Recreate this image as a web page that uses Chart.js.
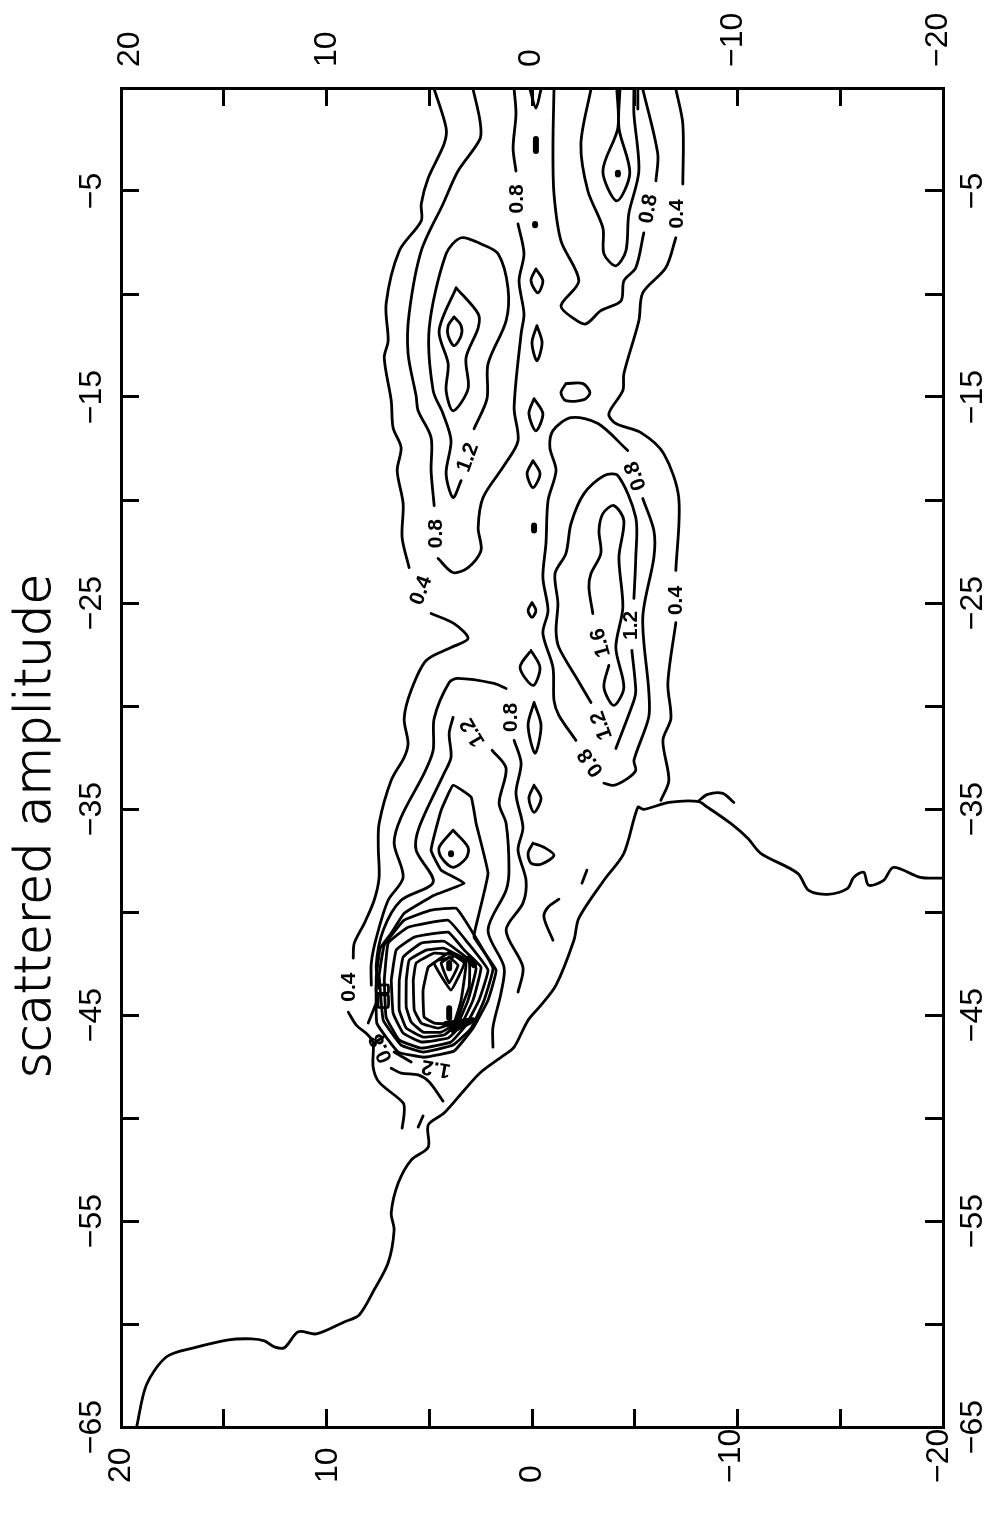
<!DOCTYPE html>
<html>
<head>
<meta charset="utf-8">
<style>
    html, body { margin: 0; background: #fff; }
    #wrap { width: 988px; height: 1516px; }
</style>
<script src="https://cdn.jsdelivr.net/npm/chart.js@4"></script>
</head>
<body>
<div id="wrap"><canvas id="ampChart"></canvas></div>
<script>
// contours as [horizontal axis value, vertical axis value]
const coast = [[19.24,-65],[18.76,-62.95],[17.78,-61.59],[16.42,-61.15],[14.77,-60.77],[13.65,-60.72],[13.02,-60.82],[12.54,-61.11],[12.05,-61.15],[11.37,-60.38],[10.5,-60.48],[9.14,-59.9],[8.41,-59.56],[7.68,-58.34],[7,-57.03],[6.71,-55.44],[6.85,-54.61],[6.51,-53.16],[5.88,-52.04],[5.05,-51.41],[5.05,-50.34],[4.28,-49.76],[3.3,-48.65],[2.48,-47.77],[1.36,-46.95],[0.87,-46.56],[0.19,-45.25],[-0.44,-44.52],[-1.17,-43.55],[-2.04,-41.37],[-2.28,-40.3],[-3.5,-38.46],[-4.47,-37.15],[-5.15,-34.92],[-5.44,-35.02],[-6.66,-34.68],[-8.07,-34.63],[-8.55,-34.92],[-9.67,-35.7],[-10.5,-36.42],[-11.13,-37.15],[-12.93,-38.12],[-13.46,-38.95],[-14.39,-39.14],[-15.36,-38.85],[-15.65,-38.32],[-16.14,-38.07],[-16.38,-38.7],[-17.11,-38.46],[-17.59,-37.83],[-18.9,-38.32],[-19.97,-38.36]];
const coastBranch = [[-8.07,-34.63],[-8.55,-34.29],[-9.28,-34.24],[-9.82,-34.68]];

const north04a = [[4.76,-0.05],[4.18,-1.94],[4.28,-2.72],[5.05,-4.37],[5.39,-5.63],[5.39,-6.45],[6.46,-7.91],[7.1,-10.48],[7,-12.27],[7.19,-13.1],[6.85,-15.18],[6.76,-16.49],[6.37,-17.46],[6.56,-18.58],[6.27,-20.18],[6.32,-21.83],[5.98,-23.28]];
const north04b = [[4.91,-25.51],[3.79,-26],[3.11,-26.72],[3.94,-27.16],[5.15,-27.79],[5.88,-29.24],[6.22,-30.6],[6.03,-31.82],[6.22,-32.49],[6.85,-33.61],[7.44,-35.7],[7.48,-36.86],[7.44,-38.32],[7.68,-39.43],[8.16,-40.55],[8.65,-41.52],[8.7,-42.24]];
const north04c = [[8.94,-44.86],[8.55,-45.49],[7.97,-45.98],[7.73,-46.36],[7.73,-47.53],[7.44,-48.26],[6.27,-49.27],[6.22,-49.76],[6.32,-50.49]];

const north08a = [[2.87,-0.05],[2.53,-1.6],[2.53,-2.47],[3.6,-4.03],[4.33,-5.63],[5.39,-7.91],[5.98,-10.96],[6.03,-12.9],[5.64,-14.94],[5.54,-15.67],[4.91,-16.97],[4.91,-18.58],[4.76,-20.27]];
const north08b = [[4.57,-22.84],[3.84,-23.52],[3.11,-23.28],[2.48,-22.45],[2.62,-21.34],[2.38,-19.88],[1.36,-18.33],[0.68,-17.12],[0.87,-15.52],[0.53,-11.93],[0.39,-10.96],[0.63,-9.36],[0.39,-8.05],[0.68,-6.6]];
const north08c = [[0.78,-4.03],[0.92,-2.91],[0.78,-1.26],[0.87,-0.05]];
const north12 = [[2.82,-16.54],[2.19,-15.08],[2.14,-13.39],[1.26,-11.3],[1.17,-9.7],[1.65,-8.05],[2.48,-7.57],[3.45,-7.27],[4.18,-8.05],[5,-11.64],[4.81,-14.69],[4.33,-15.81],[3.94,-17.12],[4.18,-18.72],[3.84,-19.88],[3.45,-19.06]];
const north16 = [[3.69,-9.7],[4.52,-11.78],[4.08,-13.39],[4.18,-14.69],[3.84,-15.67],[3.11,-14.6],[3.21,-13.09],[2.62,-11.64],[2.62,-10.96],[3.69,-9.7]];
const north20 = [[3.79,-11.11],[3.45,-11.54],[3.45,-12.03],[3.79,-12.51],[4.08,-12.03],[4.08,-11.54],[3.79,-11.11]];

const ridge = [
    [[0.1,-0.05],[-0.19,-0.97],[-0.44,-0.05]],
    [[-0.19,-8.78],[-0.53,-9.36],[-0.29,-9.94],[0.05,-9.36],[-0.19,-8.78]],
    [[-0.24,-11.54],[-0.49,-12.37],[-0.24,-13.24],[0,-12.37],[-0.24,-11.54]],
    [[-1.65,-14.35],[-2.48,-14.35],[-2.82,-14.79],[-2.53,-15.13],[-1.65,-15.18],[-1.41,-14.79],[-1.65,-14.35]],
    [[-0.1,-15.08],[-0.53,-15.81],[-0.19,-16.64],[0.15,-15.81],[-0.1,-15.08]],
    [[-0.05,-18.09],[-0.39,-18.72],[-0.05,-19.4],[0.24,-18.72],[-0.05,-18.09]],
    [[0,-24.98],[-0.19,-25.36],[0,-25.7],[0.19,-25.36],[0,-24.98]],
    [[0.05,-27.3],[-0.39,-28.13],[-0.05,-29],[0.58,-28.13],[0.05,-27.3]],
    [[-0.1,-29.83],[-0.44,-30.94],[-0.15,-32.3],[0.19,-30.94],[-0.1,-29.83]],
    [[-0.1,-33.85],[-0.44,-34.48],[-0.1,-35.16],[0.15,-34.48],[-0.1,-33.85]],
    [[-0.05,-36.66],[-0.58,-36.86],[-1.07,-37.25],[-0.44,-37.68],[0.05,-37.63],[0.19,-37.15],[-0.05,-36.66]],
    [[-2.43,-38.6],[-2.67,-37.97]],
    [[-1.31,-39.38],[-0.78,-39.77],[-0.58,-40.25],[-1.02,-41.37]]
];

const south04a = [[-7,-0.05],[-7.34,-1.75],[-7.34,-4.66]];
const south04b = [[-7,-7.27],[-6.51,-8.73],[-5.39,-9.94],[-5.2,-11.3],[-4.47,-13.87],[-4.42,-14.69],[-3.74,-15.81],[-4.08,-16.29],[-5.3,-16.73],[-6.41,-17.75],[-7.14,-19.88],[-7,-23.42]];
const south04c = [[-7,-25.95],[-6.61,-28.9],[-6.76,-30.6],[-6.37,-31.67],[-6.66,-33.61],[-6.27,-34.58]];
const south08a = [[-5.39,-0.05],[-6.12,-3.2],[-6.03,-4.51]];
const south08b = [[-5.44,-7.03],[-5.05,-8.73],[-4.47,-9.36],[-4.33,-10.33],[-3.35,-10.81],[-2.62,-11.45],[-2.04,-11.2],[-1.41,-10.57],[-2.28,-9.36],[-1.41,-7.42],[-1.07,-5.14],[-1.02,-2.91],[-1.07,-0.05]];
const south12 = [[-2.87,-0.05],[-2.38,-2.72],[-2.72,-5],[-3.45,-6.79],[-3.5,-8.05],[-4.08,-8.63],[-4.57,-7.91],[-4.71,-6.11],[-5.2,-4.03],[-4.96,-1.26],[-4.96,-0.05]];
const south12b = [[-5.15,-0.05],[-5.15,-1.02]];
const south16 = [[-4.13,-0.05],[-4.18,-1.94],[-3.45,-4.03],[-4.13,-5.48],[-4.76,-4.12],[-4.23,-1.94],[-4.28,-0.05]];

const lobe08a = [[-4.66,-17.6],[-3.21,-16.29],[-1.9,-16],[-1.02,-16.63],[-0.87,-17.46],[-1.17,-18.57],[-0.78,-20.03],[-0.68,-22.11],[-0.53,-23.76],[-0.78,-25.36],[-0.53,-26.48],[-1.02,-28.13],[-1.07,-29.73],[-1.31,-30.46],[-2.14,-31.67]];
const lobe08b = [[-3.5,-33.75],[-3.98,-33.85],[-4.66,-33.51],[-5.05,-33.12],[-4.96,-32.64],[-5.68,-30.55],[-5.68,-29.24],[-5.39,-25.7],[-5.93,-22.79],[-5.93,-21.48],[-5.39,-19.93]];
const lobe12a = [[-2.87,-29.83],[-2.24,-28.76],[-1.31,-27.16],[-1.17,-26.33],[-1.26,-25.02],[-1.12,-23.57],[-1.65,-22.6],[-1.9,-21.14],[-2.53,-19.69],[-3.5,-18.82],[-4.18,-18.82],[-5.05,-20.85],[-5.05,-22.79],[-4.96,-24.78]];
const lobe12b = [[-4.86,-27.3],[-5.05,-29.24],[-4.96,-29.73],[-4.08,-32.06]];
const lobe16 = [[-2.96,-25.51],[-2.77,-24.25],[-2.87,-23.57],[-3.35,-22.6],[-3.26,-21.48],[-3.45,-20.66],[-3.98,-20.27],[-4.47,-21],[-4.23,-22.79],[-4.42,-25.22],[-4.08,-27.16],[-4.47,-29.1],[-3.98,-29.97],[-3.5,-29.1],[-3.74,-28.03]];

const peak08a = [[1.26,-29.15],[1.85,-28.9],[3.6,-28.66],[4.03,-28.86],[4.76,-30.6],[4.81,-32.15],[5.25,-33.27],[6.37,-35.4],[6.71,-36.66],[6.27,-38.32],[7,-39.43],[7.58,-41.27],[7.82,-42.48],[7.82,-43.55]];
const peak08b = [[0.87,-31.67],[0.53,-32.78],[0.78,-34.24],[0.44,-35.89],[0.68,-37],[0.29,-38.46],[0.44,-39.57],[1.26,-40.88],[0.44,-42.68],[0.68,-43.89]];
const peak12a = [[3.84,-30.55],[4.03,-31.33],[3.94,-32.49],[4.28,-33.27],[5.49,-35.89],[5.64,-37],[4.81,-38.55],[6.37,-39.43],[7.24,-40.88],[7.58,-42.58],[7.44,-43.7]];
const peak12b = [[1.94,-32.15],[1.26,-33.03],[1.6,-34.72],[1.26,-35.7],[1.12,-37.97],[1.26,-38.94],[2.14,-40.88],[1.36,-42.68],[1.51,-43.94],[1.9,-45.59],[1.9,-46.56]];
const peak16 = [[7.58,-43.16],[7.39,-41.76],[6.85,-41.03],[6.22,-40.06],[4.76,-39.19],[3.3,-38.6],[4.42,-37.97],[4.91,-37],[4.42,-35.06],[3.84,-33.85],[2.96,-34.43],[2.72,-35.7],[2.14,-38.12],[2.62,-40.25],[2.82,-41.22],[1.75,-42.82],[2.14,-44.28],[2.87,-45.64],[3.79,-46.75],[5.25,-47.05],[6.51,-46.8],[7.55,-45.4],[7.58,-43.16]];
const peak20 = [[3.84,-36.03],[3.11,-36.86],[3.21,-37.39],[3.84,-37.83],[4.42,-37.34],[4.52,-36.86],[3.84,-36.03]];

const ring0 = [[7.44,-43.06],[7.19,-41.61],[6.22,-40.4],[4.91,-39.91],[3.69,-39.82],[2.96,-40.88],[1.9,-42.73],[2.33,-44.28],[2.96,-45.64],[3.84,-46.46],[5.3,-46.8],[6.37,-46.46],[7.24,-45.25],[7.44,-43.06]];
const ring1 = [[7.19,-43.31],[7,-41.51],[6.03,-40.74],[4.08,-40.4],[3.11,-41.51],[2.14,-42.82],[2.58,-44.28],[3.21,-45.49],[3.94,-46.31],[5.39,-46.61],[6.46,-46.22],[7.1,-45.1],[7.19,-43.31]];
const ring2 = [[6.85,-43.31],[6.61,-41.85],[5.73,-41.22],[4.08,-40.98],[3.3,-41.85],[2.48,-42.68],[2.87,-44.28],[3.45,-45.49],[4.08,-46.12],[5.39,-46.31],[6.27,-45.88],[6.76,-44.91],[6.85,-43.31]];
const ring3 = [[6.46,-43.31],[6.27,-42.19],[5.39,-41.51],[4.28,-41.42],[3.21,-42.19],[2.72,-42.73],[3.11,-44.28],[3.6,-45.39],[4.28,-45.97],[5.3,-46.07],[6.12,-45.64],[6.46,-44.76],[6.46,-43.31]];
const ring4 = [[6.12,-43.31],[5.98,-42.34],[5.15,-41.85],[4.28,-41.76],[3.06,-42.44],[3.06,-43.65],[3.35,-44.42],[3.69,-45.39],[4.42,-45.83],[5.3,-45.83],[5.88,-45.34],[6.12,-44.62],[6.12,-43.31]];
const ring5 = [[5.78,-43.31],[5.64,-42.48],[4.76,-42],[3.6,-42.1],[3.21,-42.48],[3.45,-44.28],[3.79,-45.34],[4.57,-45.64],[5.39,-45.39],[5.73,-44.76],[5.78,-43.31]];
const ring6 = [[3.94,-45.44],[4.76,-45.39],[5.25,-45.1],[5.3,-43.79],[5.05,-42.68],[4.57,-42.34],[3.84,-42.19]];
const diamond1 = [[4.03,-41.95],[4.76,-42.48],[3.94,-43.79],[3.3,-42.48],[4.03,-41.95]];
const diamond2 = [[4.03,-42.19],[4.42,-42.48],[4.03,-43.45],[3.6,-42.58],[4.03,-42.19]];

const box1 = [[7.58,-43.55],[7,-43.55],[7,-43.94],[7.58,-43.94],[7.58,-43.55]];
const box2 = [[7.48,-44.03],[7,-44.03],[7,-44.62],[7.48,-44.62],[7.48,-44.03]];
const stubs = [
    [[7.58,-44.42],[7.97,-45.39]],
    [[7.68,-46.36],[7.24,-46.07]],
    [[6.71,-46.8],[5.88,-47.28]],
    [[6.85,-47.58],[6.37,-47.82],[5.54,-47.91],[5,-48.25],[4.33,-49.18]],
    [[5.3,-49.9],[5.54,-50.44]]
];

// small solid spots where the contours pile up
const blobs = [
    [[-0.19,-2.47],[-0.19,-3.06]],
    [[-0.15,-6.6],[-0.15,-6.66]],
    [[-0.1,-21.24],[-0.1,-21.48]],
    [[-4.18,-4.12],[-4.18,-4.2]],
    [[3.94,-37.15],[3.94,-37.2]],
    [[4.03,-42.48],[4.03,-42.73]],
    [[4.03,-44.67],[4.03,-45.15]],
    [[4.18,-45.44],[2.87,-45.25]],
    [[3.84,-45.73],[3.06,-45.34]],
    [[3.06,-42.24],[2.82,-42.58]]
];

const contourLabels = [
    ['0.8',0.73,-5.38,-90],['0.8',-5.68,-5.87,-80],['0.4',-7.09,-6.11,-90],
    ['1.2',3.11,-17.94,-70],['0.8',4.66,-21.63,-90],['0.4',5.39,-24.39,-70],
    ['0.8',-5.05,-18.82,-110],['0.4',-7,-24.88,-90],['1.2',-4.81,-26.09,-90],
    ['1.6',-3.35,-26.92,-105],['0.8',1.02,-30.55,-90],['1.2',2.87,-31.28,-120],
    ['1.2',-3.4,-30.94,-110],['0.8',-2.87,-32.74,-125],['0.4',8.89,-43.65,-90],
    ['0.8',7.34,-46.61,-115],['1.2',4.66,-47.58,190]
];

const smoothLines = [
    coast, coastBranch, north04a, north04b, north04c, north08a, north08b, north08c, north12, north16, north20,
    ...ridge, south04a, south04b, south04c, south08a, south08b, south12, south12b, south16,
    lobe08a, lobe08b, lobe12a, lobe12b, lobe16, peak08a, peak08b, peak12a, peak12b, peak20, ...stubs
];
const stiffLines = [peak16, ring0, ring1, ring2, ring3, ring4, ring5, ring6, diamond1, diamond2, box1, box2];

// nudges for the skew of the scanned page, by label
const topShift = { '20': 17, '10': 8, '0': 7, '\u221210': 3, '\u221220': 3 };
const bottomShift = { '20': 0, '10': 2, '0': 0, '\u221210': -6, '\u221220': -4 };

const tickFont = { family: "'Liberation Sans', sans-serif", size: 32 };

function tickLabel(v) {
    return String(v).replace('-', '\u2212');
}

function lineSet(points, width, tension) {
    return {
        data: points,
        showLine: true,
        borderColor: '#000',
        backgroundColor: '#000',
        borderWidth: width,
        borderCapStyle: 'round',
        borderJoinStyle: 'round',
        pointRadius: 0,
        tension: tension,
        clip: false
    };
}

function noMargins(s) {
    s.paddingLeft = s.paddingRight = s.paddingTop = s.paddingBottom = 0;
}

function xAxis(position, size) {
    return {
        axis: 'x',
        type: 'linear',
        position: position,
        reverse: true,
        min: -20,
        max: 20,
        afterFit: s => { s.height = size; noMargins(s); },
        border: { display: true, color: '#000', width: 3 },
        grid: { drawOnChartArea: false, color: '#000', tickColor: '#000', tickWidth: 3, tickLength: -18 },
        ticks: {
            stepSize: 5,
            autoSkip: false,
            minRotation: 90,
            maxRotation: 90,
            padding: 39,
            color: '#000',
            font: tickFont,
            callback: v => (v % 10 === 0 ? tickLabel(v) : '')
        }
    };
}

function yAxis(position, size, pad) {
    return {
        axis: 'y',
        type: 'linear',
        position: position,
        min: -65,
        max: 0,
        afterFit: s => { s.width = size; noMargins(s); },
        border: { display: true, color: '#000', width: 3 },
        grid: { drawOnChartArea: false, color: '#000', tickColor: '#000', tickWidth: 3, tickLength: -18 },
        ticks: {
            stepSize: 5,
            autoSkip: false,
            minRotation: 90,
            maxRotation: 90,
            crossAlign: 'center',
            padding: pad,
            color: '#000',
            font: tickFont,
            callback: v => ((v + 65) % 10 === 0 ? tickLabel(v) : '')
        }
    };
}

// the library has no option for these label anchors, so move them once after layout
const labelNudge = {
    id: 'labelNudge',
    afterLayout(chart) {
        const { x, x2 } = chart.scales;
        x2.getLabelItems().forEach(i => {
            i.options.translation[0] += 31 + (topShift[i.label] || 0);
        });
        x.getLabelItems().forEach(i => {
            i.options.textAlign = 'left';
            i.options.translation[1] = 1483;
            i.options.translation[0] += bottomShift[i.label] || 0;
        });
    }
};

const textPlugin = {
    id: 'textPlugin',
    afterDatasetsDraw(chart) {
        const ctx = chart.ctx;
        ctx.save();
        ctx.fillStyle = '#000';
        ctx.textAlign = 'center';
        ctx.textBaseline = 'middle';
        ctx.font = "bold 21px 'Liberation Sans', sans-serif";
        contourLabels.forEach(([text, x, y, angle]) => {
            ctx.save();
            ctx.translate(chart.scales.x.getPixelForValue(x), chart.scales.y.getPixelForValue(y));
            ctx.rotate(angle * Math.PI / 180);
            ctx.fillText(text, 0, 0);
            ctx.restore();
        });
        ctx.save();
        ctx.translate(37, 826);
        ctx.rotate(-Math.PI / 2);
        ctx.font = "200 50px 'DejaVu Sans', sans-serif";
        ctx.strokeStyle = '#000';
        ctx.lineWidth = 1;
        ctx.fillText('scattered amplitude', 0, 0);
        ctx.strokeText('scattered amplitude', 0, 0);
        ctx.restore();
        ctx.restore();
    }
};

new Chart(document.getElementById('ampChart'), {
    type: 'scatter',
    data: {
        datasets: [
            ...smoothLines.map(l => lineSet(l, 2.8, 0.3)),
            ...stiffLines.map(l => lineSet(l, 2.8, 0.1)),
            ...blobs.map(b => lineSet(b, 6, 0))
        ]
    },
    options: {
        responsive: true,
        maintainAspectRatio: false,
        animation: false,
        layout: { padding: 0 },
        plugins: { legend: { display: false }, tooltip: { enabled: false } },
        scales: {
            x: xAxis('bottom', 89),
            x2: xAxis('top', 88),
            y: yAxis('left', 121, 19.5),
            y2: yAxis('right', 45, 21)
        }
    },
    plugins: [labelNudge, textPlugin]
});
</script>
</body>
</html>
